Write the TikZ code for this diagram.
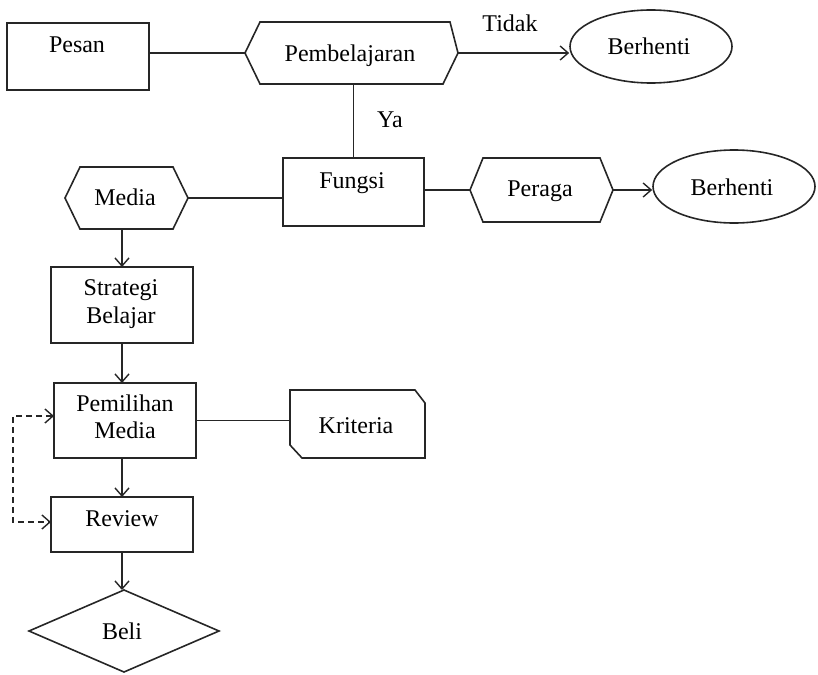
\documentclass[tikz,border=0pt]{standalone}
\usepackage{fontspec}
\setmainfont{Liberation Serif}
\usetikzlibrary{arrows.meta,shapes.geometric}
\begin{document}
\begin{tikzpicture}[x=1pt,y=-1pt,
  lw/.style={line width=1.6pt, draw=black!85},
  frame/.style={draw=none, inner sep=0pt, outer sep=0pt},
  boxn/.style={lw, rectangle, inner sep=0pt, outer sep=0pt},
  lbl/.style={font=\fontsize{24}{27.5}\selectfont, inner sep=0pt, anchor=base, text=black},
  mlbl/.style={lbl, anchor=center, align=center},
  conn/.style={line width=1.4pt, draw=black!85},
  tip/.tip={Straight Barb[length=8pt,width=14pt]},
  arr/.style={conn, -tip},
]
\useasboundingbox (0,0) rectangle (818,674);

% shapes
\node[boxn, anchor=north west, minimum width=142pt, minimum height=67pt] (pesan) at (7,23) {};
\node[frame, anchor=north west, minimum width=213pt, minimum height=62pt] (pemb) at (245,22) {};
\draw[lw] (pemb.west) -- ([xshift=15pt]pemb.north west) -- ([xshift=-8pt]pemb.north east) -- (pemb.east) -- ([xshift=-15pt]pemb.south east) -- ([xshift=15pt]pemb.south west) -- cycle;
\node[lw, ellipse, inner sep=0pt, minimum width=162pt, minimum height=73pt] (stopa) at (651,46.5) {};
\node[boxn, anchor=north west, minimum width=141pt, minimum height=68pt] (fungsi) at (283,158) {};
\node[frame, anchor=north west, minimum width=123pt, minimum height=62pt] (media) at (65,167) {};
\draw[lw] (media.west) -- ([xshift=15pt]media.north west) -- ([xshift=-15pt]media.north east) -- (media.east) -- ([xshift=-15pt]media.south east) -- ([xshift=15pt]media.south west) -- cycle;
\node[frame, anchor=north west, minimum width=143pt, minimum height=64pt] (peraga) at (470,158) {};
\draw[lw] (peraga.west) -- ([xshift=13pt]peraga.north west) -- ([xshift=-13pt]peraga.north east) -- (peraga.east) -- ([xshift=-13pt]peraga.south east) -- ([xshift=13pt]peraga.south west) -- cycle;
\node[lw, ellipse, inner sep=0pt, minimum width=162pt, minimum height=73pt] (stopb) at (734,186.5) {};
\node[boxn, anchor=north west, minimum width=142pt, minimum height=76pt] (strat) at (51,267) {};
\node[boxn, anchor=north west, minimum width=142pt, minimum height=75pt] (pem) at (54,383) {};
\node[frame, anchor=north west, minimum width=135pt, minimum height=68pt] (kri) at (290,390) {};
\draw[lw] (kri.north west) -- ([xshift=-10pt]kri.north east) -- ([yshift=-13pt]kri.north east) -- (kri.south east) -- ([xshift=12pt]kri.south west) -- ([yshift=13pt]kri.south west) -- cycle;
\node[boxn, anchor=north west, minimum width=142pt, minimum height=55pt] (review) at (51,497) {};
\node[frame, minimum width=190pt, minimum height=82pt] (beli) at (124,631) {};
\draw[lw] (beli.north) -- (beli.east) -- (beli.south) -- (beli.west) -- cycle;

% labels
\node[lbl] (tpesan) at (77,53) {Pesan};
\node[lbl] (tpemb) at (350,62) {Pembelajaran};
\node[lbl] (ttidak) at (510,32) {Tidak};
\node[lbl] (tstopa) at (649,55) {Berhenti};
\node[lbl] (tya) at (390,128) {Ya};
\node[lbl] (tfungsi) at (352,188) {Fungsi};
\node[lbl] (tmedia) at (125,205) {Media};
\node[lbl] (tperaga) at (540,196) {Peraga};
\node[lbl] (tstopb) at (732,195) {Berhenti};
\node[mlbl] (tstrat) at (121,304) {Strategi\\Belajar};
\node[mlbl] (tpem) at (125,417) {Pemilihan\\Media};
\node[lbl] (tkri) at (356,433) {Kriteria};
\node[lbl] (treview) at (122,526) {Review};
\node[lbl] (tbeli) at (122,639) {Beli};

% connectors
\draw[conn] (pesan.east |- pemb.west) -- (pemb.west);
\draw[arr] (pemb.east) -- (pemb.east -| stopa.west);
\draw[conn] (pemb.south -| fungsi.north) -- (fungsi.north);
\draw[conn] (media.east) -- (media.east -| fungsi.west);
\draw[conn] (fungsi.east |- peraga.west) -- (peraga.west);
\draw[arr] (peraga.east) -- (peraga.east -| stopb.west);
\draw[arr] (media.south -| strat.north) -- (strat.north);
\draw[arr] (strat.south) -- (strat.south |- pem.north);
\draw[arr] (pem.south -| review.north) -- (review.north);
\draw[arr] (review.south) -- (review.south |- beli.north);
\draw[conn] (pem.east) -- (pem.east -| kri.west);
\draw[conn, dash pattern=on 6pt off 4pt, tip-tip] ([yshift=4.5pt]pem.west) -- ++(-41,0) |- ([yshift=2.5pt]review.west);
\end{tikzpicture}
\end{document}
